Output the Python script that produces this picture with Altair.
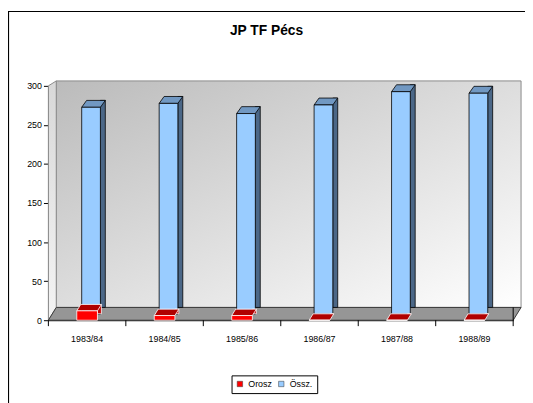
import altair as alt
import pandas as pd

years = ["1983/84", "1984/85", "1985/86", "1986/87", "1987/88", "1988/89"]
orosz = [12, 6, 6, 0, 0, 0]
ossz = [265, 270, 257, 268, 285, 283]
series = ["Orosz", "Össz."]
colors = ["#FF0000", "#99CCFF"]
y_ticks = [0, 50, 100, 150, 200, 250, 300]
title_text = "JP TF Pécs"

W, H = 472, 238
FONT = "Liberation Sans"

df_r = pd.DataFrame({"year": years, "value": orosz, "series": series[0]})
df_b = pd.DataFrame({"year": years, "value": ossz, "series": series[1]})
one = alt.Data(values=[{}])

xaxis = alt.Axis(title=None, ticks=False, labelPadding=15, labelFontSize=9,
                 labelColor="#000", domainColor="#000", labelAngle=0, labelFont=FONT)
xscale = alt.Scale(paddingInner=0, paddingOuter=0)


def xe(**kw):
    return alt.X("year:N", sort=years, scale=xscale, axis=xaxis, **kw)


y_enc = alt.Y("value:Q", scale=alt.Scale(domain=[0, 300], nice=False),
              axis=alt.Axis(title=None, values=y_ticks, tickSize=5, tickColor="#000",
                            domainColor="#000", labelColor="#000", labelFontSize=9,
                            labelFont=FONT, labelPadding=2, grid=False))
color_enc = alt.Color("series:N", scale=alt.Scale(domain=series, range=colors),
                      legend=alt.Legend(title=None, orient="none", legendX=186, legendY=294,
                                        direction="horizontal", strokeColor="#000", padding=4,
                                        labelFontSize=9, labelFont=FONT, symbolType="square",
                                        symbolSize=30, symbolStrokeColor="#333",
                                        symbolStrokeWidth=0.5, columnPadding=4))

wall_grad = alt.LinearGradient(gradient="linear",
                               stops=[alt.GradientStop(color="#BBBBBB", offset=0),
                                      alt.GradientStop(color="#FFFFFF", offset=1)],
                               x1=0, y1=0, x2=1, y2=1)
side_grad = alt.LinearGradient(gradient="linear",
                               stops=[alt.GradientStop(color="#D8D8D8", offset=0),
                                      alt.GradientStop(color="#F4F4F4", offset=1)],
                               x1=0, y1=0, x2=0, y2=1)

border = alt.Chart(one).mark_rect(fillOpacity=0, stroke="#000", strokeWidth=1.2).encode(
    x=alt.value(-40.5), x2=alt.value(700), y=alt.value(-75.5), y2=alt.value(500))
title = alt.Chart(one).mark_text(text=title_text, font=FONT, fontSize=14, fontWeight="bold",
                                 color="#000", baseline="alphabetic", align="center").encode(
    x=alt.value(221.5), y=alt.value(-52))
back_wall = alt.Chart(one).mark_rect(fill=wall_grad, stroke="#8A8A8A", strokeWidth=1).encode(
    x=alt.value(8), x2=alt.value(W + 8), y=alt.value(-5), y2=alt.value(H - 13))
left_wall = alt.Chart(one).mark_point(shape="M 0 0 L 0 -238 L 8 -243 L 8 -13 Z", size=4,
                                      filled=True, fill=side_grad, opacity=1,
                                      stroke="#8A8A8A", strokeWidth=1).encode(
    x=alt.value(0), y=alt.value(H))
floor = alt.Chart(one).mark_point(shape="M 0 0 L 472 0 L 480 -13 L 8 -13 Z", size=4,
                                  filled=True, fill="#969696", opacity=1,
                                  stroke="#3A3A3A", strokeWidth=1).encode(
    x=alt.value(0), y=alt.value(H))

blue_side = alt.Chart(df_b).mark_bar(size=5, xOffset=16, yOffset=-13, y2Offset=-16,
                                     color="#4B6787", stroke="#000", strokeWidth=0.8).encode(
    x=xe(), y=y_enc)
blue_cap = alt.Chart(df_b).mark_point(shape="M -9.5 0 L 9.5 0 L 14.5 -7 L -4.5 -7 Z", size=4,
                                      filled=True, fill="#7198C2", opacity=1, stroke="#000",
                                      strokeWidth=0.8, xOffset=4, yOffset=-6).encode(
    x=xe(), y=y_enc)
blue_front = alt.Chart(df_b).mark_bar(size=19, xOffset=4, yOffset=-6, y2Offset=-13,
                                      stroke="#000", strokeWidth=0.8).encode(
    x=xe(), y=y_enc, color=color_enc)

ticks = alt.Chart(df_b).mark_rule(color="#000").encode(
    x=xe(bandPosition=0), y=alt.value(H), y2=alt.value(H + 6))
last_tick = alt.Chart(one).mark_rule(color="#000").encode(
    x=alt.value(W), y=alt.value(H - 13), y2=alt.value(H + 6))

red_side = alt.Chart(df_r).mark_bar(size=4, xOffset=12.5, yOffset=-6.5, y2Offset=-3,
                                    color="#C00000", stroke="#FFFFFF", strokeWidth=0.8).encode(
    x=xe(), y=y_enc)
red_cap = alt.Chart(df_r).mark_point(shape="M -10.5 0 L 10.5 0 L 14.5 -6.5 L -6.5 -6.5 Z", size=4,
                                     filled=True, fill="#B00000", opacity=1, stroke="#FFFFFF",
                                     strokeWidth=0.8).encode(
    x=xe(), y=y_enc)
red_front = alt.Chart(df_r).mark_bar(size=21, stroke="#FFFFFF", strokeWidth=0.8).encode(
    x=xe(), y=y_enc, color=color_enc)

chart = alt.layer(
    border, title, back_wall, left_wall, floor,
    blue_side, blue_cap, blue_front,
    last_tick, ticks,
    red_side, red_cap, red_front,
).properties(
    width=W, height=H,
    padding={"left": 41, "top": 76, "right": 12, "bottom": 81},
    autosize=alt.AutoSizeParams(type="none"),
).configure_view(stroke=None).configure(background="#FFFFFF")

chart.save("out.html", embed_options={"renderer": "svg", "actions": False})
